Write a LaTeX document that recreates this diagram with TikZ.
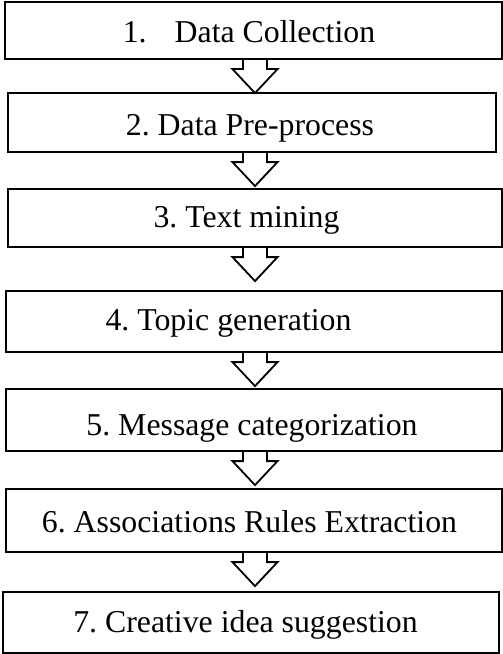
\documentclass[tikz,border=0pt]{standalone}
\usepackage{fontspec}
\setmainfont{Liberation Serif}
\frenchspacing
\tikzset{
  stepbox/.style={draw, line width=2.2bp, rectangle, inner sep=0pt},
  steptext/.style={anchor=base, inner sep=0pt, font=\fontsize{31.8bp}{36bp}\selectfont},
  flowarrow/.style={draw, line width=1.8bp, line join=miter}
}
% hollow block arrow hanging below a box, centred on the arrow axis
\newcommand\downarrowfrom[1]{%
  \draw[flowarrow] (#1.south -| ax) ++(-12,0) -- ++(0,9) -- ++(-10.5,0)
    -- ++(22.5,24) -- ++(22.5,-24) -- ++(-10.5,0) -- ++(0,-9);}
\begin{document}
\begin{tikzpicture}[x=1bp, y=-1bp]
\useasboundingbox (0,0) rectangle (503,654);
\coordinate (ax) at (255,0);

% boxes
\node[stepbox, minimum width=497bp, minimum height=57bp] (b1) at (253.5,30.5) {};
\node[stepbox, minimum width=488bp, minimum height=59bp] (b2) at (252,122.5) {};
\node[stepbox, minimum width=494bp, minimum height=58bp] (b3) at (255,218) {};
\node[stepbox, minimum width=496bp, minimum height=61bp] (b4) at (254,321.5) {};
\node[stepbox, minimum width=496bp, minimum height=62bp] (b5) at (254,420) {};
\node[stepbox, minimum width=496bp, minimum height=63bp] (b6) at (254,520.5) {};
\node[stepbox, minimum width=496bp, minimum height=61bp] (b7) at (251,622.5) {};

% labels
\node[steptext] (t1) at (249,43)  {1.\hspace{28bp}Data Collection};
\node[steptext] (t2) at (250,135) {2. Data Pre-process};
\node[steptext] (t3) at (246.5,227) {3. Text mining};
\node[steptext] (t4) at (228.5,330) {4. Topic generation};
\node[steptext] (t5) at (252,435) {5. Message categorization};
\node[steptext] (t6) at (249.5,532) {6. Associations Rules Extraction};
\node[steptext] (t7) at (245.5,632) {7. Creative idea suggestion};

% arrows between steps
\downarrowfrom{b1}
\downarrowfrom{b2}
\downarrowfrom{b3}
\downarrowfrom{b4}
\downarrowfrom{b5}
\downarrowfrom{b6}
\end{tikzpicture}
\end{document}
